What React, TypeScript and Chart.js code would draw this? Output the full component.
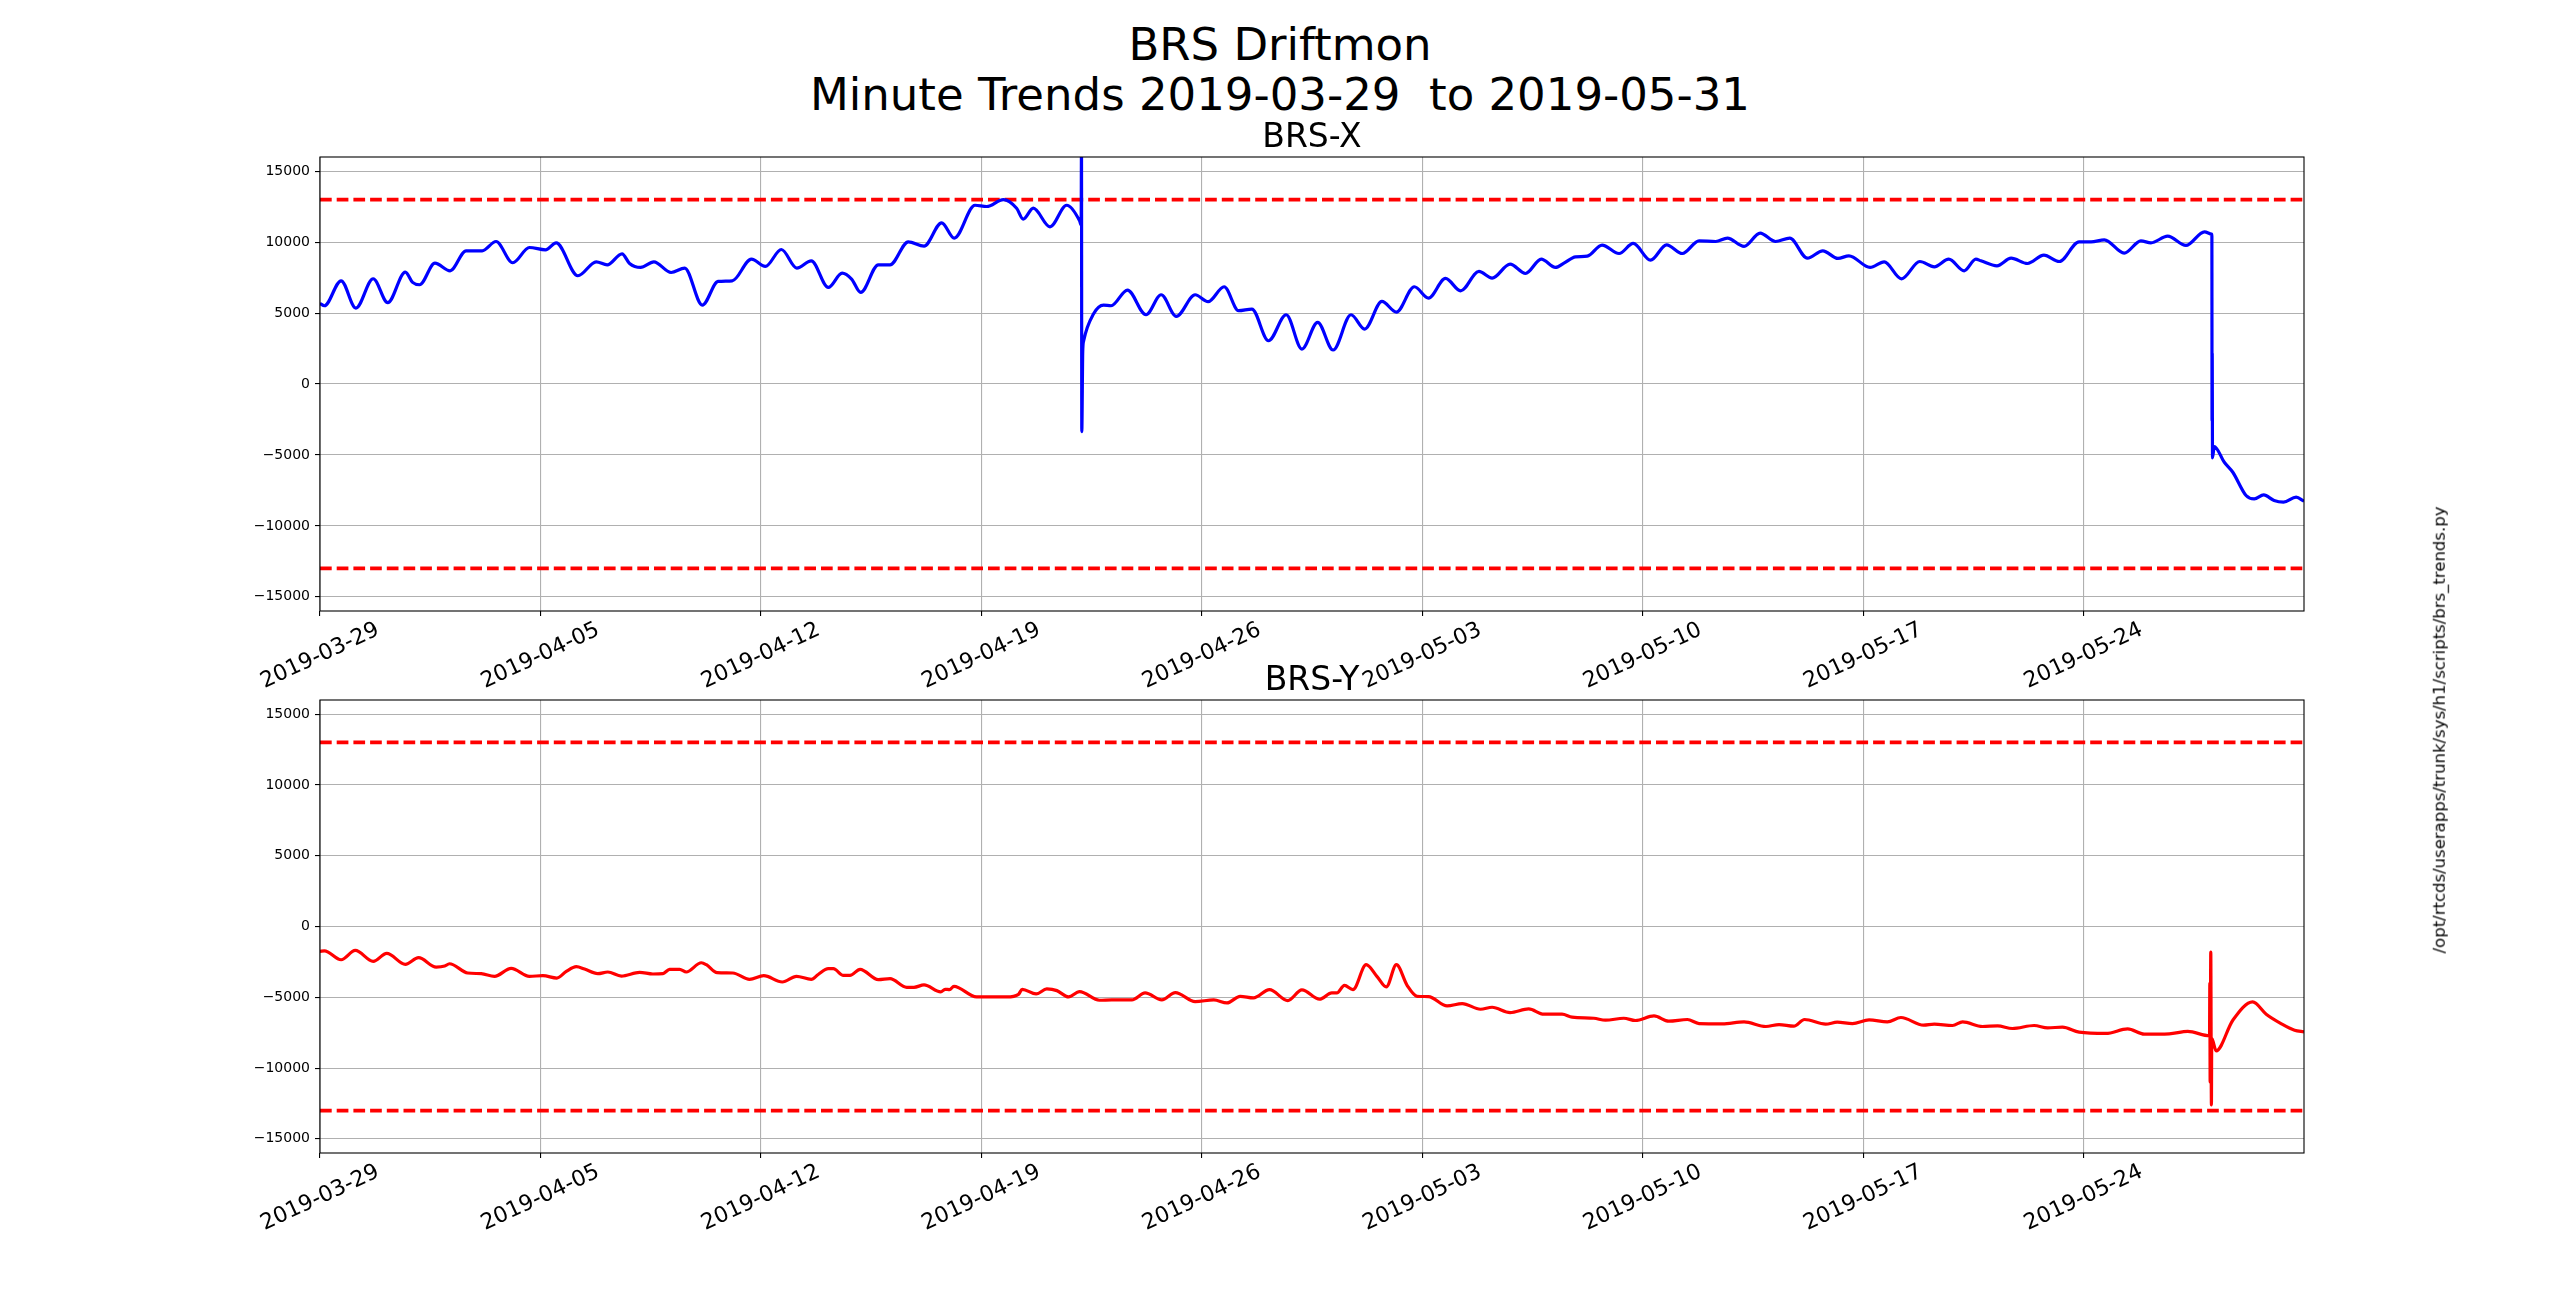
import React, { useEffect, useRef } from 'react';
import { Chart, registerables } from 'chart.js';

Chart.register(...registerables);

// ---------------- data ----------------
const dayRange = [0, 63]; // days since 2019-03-29 (to 2019-05-31)
const tickDays = [0, 7, 14, 21, 28, 35, 42, 49, 56];
const tickLabels = [
  '2019-03-29', '2019-04-05', '2019-04-12', '2019-04-19', '2019-04-26',
  '2019-05-03', '2019-05-10', '2019-05-17', '2019-05-24',
];
const yRange = [-16000, 16000];
const yTicks = [-15000, -10000, -5000, 0, 5000, 10000, 15000];
const thresholds = [13000, -13000];

const brsXDays = [
  0, 0.14, 0.67, 1.14, 1.69, 2.15, 2.71, 2.94, 3.16, 3.65, 4.13, 4.64, 5.15, 5.59, 6.12, 6.65, 7.16, 7.5,
  8.19, 8.77, 9.12, 9.59, 9.83, 10.18, 10.6, 11.15, 11.58, 12.14, 12.64, 13.09, 13.7, 14.14, 14.65, 15.14,
  15.6, 16.14, 16.58, 16.88, 17.17, 17.73, 18.1, 18.68, 19.18, 19.74, 20.14, 20.8, 21.17, 21.7, 22.12,
  22.33, 22.65, 23.18, 23.71, 24.12, 24.17, 24.18, 24.19, 24.22, 24.25, 24.56, 24.88, 25.12, 25.64, 26.23,
  26.71, 27.19, 27.79, 28.2, 28.71, 29.17, 29.59, 30.12, 30.68, 31.18, 31.68, 32.17, 32.74, 33.17, 33.72,
  34.18, 34.75, 35.2, 35.74, 36.22, 36.8, 37.22, 37.79, 38.28, 38.78, 39.23, 39.5, 39.87, 40.24, 40.71,
  41.25, 41.7, 42.25, 42.76, 43.26, 43.79, 44.32, 44.69, 45.22, 45.73, 46.22, 46.67, 47.23, 47.72, 48.2,
  48.55, 49.22, 49.67, 50.22, 50.8, 51.26, 51.72, 52.21, 52.58, 52.74, 53.25, 53.7, 54.22, 54.74, 55.23,
  55.86, 56.24, 56.66, 57.29, 57.82, 58.14, 58.67, 59.25, 59.84, 60.07, 60.075, 60.08, 60.085, 60.095,
  60.15, 60.47, 60.74, 61.16, 61.42, 61.72, 62.05, 62.35, 62.75, 63.0,
];
const brsXValues = [
  5680, 5515, 7275, 5350, 7420, 5730, 7885, 7160, 6995, 8520, 7980, 9390, 9390, 10045, 8545, 9620, 9460, 9950,
  7630, 8610, 8400, 9175, 8495, 8215, 8610, 7860, 8170, 5560, 7230, 7275, 8800, 8285, 9480, 8170,
  8685, 6805, 7815, 7395, 6455, 8400, 8400, 10020, 9715, 11360, 10280, 12600, 12510, 13000, 12390,
  11620, 12390, 11080, 12600, 11500, 11200, 17000, -3355, 2300, 3050, 4930, 5560, 5515, 6620, 4880,
  6290, 4765, 6290, 5800, 6855, 5165, 5280, 3050, 4880, 2465, 4340, 2395, 4880, 3870, 5820,
  5070, 6855, 6055, 7440, 6570, 7935, 7465, 8450, 7790, 8800, 8215, 8520, 8965, 9010, 9790,
  9200, 9905, 8730, 9810, 9200, 10090, 10045, 10280, 9695, 10630, 10045, 10280, 8870, 9390, 8850,
  9035, 8215, 8610, 7415, 8635, 8260, 8800, 7980, 8800, 8685, 8330, 8870, 8495, 9080, 8635,
  10020, 10020, 10160, 9225, 10090, 9950, 10420, 9765, 10725, 10560, 10400, -2600, 2200, -5200,
  -4410, -5515, -6220, -7860, -8100, -7815, -8215, -8330, -7980, -8260,
];

const brsYDays = [
  0, 0.14, 0.67, 1.12, 1.69, 2.12, 2.71, 3.13, 3.69, 3.96, 4.11, 4.69, 5.12, 5.54, 6.07, 6.65, 7.08, 7.52,
  7.82, 8.14, 8.4, 8.82, 9.14, 9.57, 10.15, 10.57, 10.89, 11.1, 11.42, 11.63, 12.11, 12.27, 12.61, 13.11,
  13.64, 14.09, 14.68, 15.13, 15.6, 15.82, 16.14, 16.3, 16.62, 16.83, 17.15, 17.73, 18.1, 18.63, 18.86,
  19.18, 19.71, 19.85, 19.99, 20.13, 20.85, 21.81, 22.18, 22.3, 22.74, 23.08, 23.4, 23.77, 24.12, 24.75,
  25.14, 25.78, 26.2, 26.73, 27.16, 27.79, 28.38, 28.8, 29.22, 29.64, 30.15, 30.73, 31.18, 31.74, 32.13,
  32.29, 32.53, 32.8, 33.22, 33.56, 33.86, 34.18, 34.52, 34.84, 35.2, 35.79, 36.27, 36.85, 37.22, 37.79,
  38.38, 38.86, 39.44, 39.76, 40.45, 40.82, 41.4, 41.77, 42.36, 42.83, 43.42, 43.79, 44.53, 45.22, 45.91,
  46.33, 46.8, 47.14, 47.81, 48.18, 48.66, 49.19, 49.77, 50.2, 50.92, 51.26, 51.84, 52.16, 52.79, 53.27,
  53.74, 54.43, 54.86, 55.33, 55.86, 56.71, 57.4, 57.93, 58.72, 59.31, 60.0, 60.01, 60.02, 60.04, 60.06,
  60.07, 60.21, 60.74, 61.37, 61.8, 62.27, 62.7, 63.0,
];
const brsYValues = [
  -1760, -1715, -2350, -1690, -2465, -1900, -2675, -2205, -2865, -2795, -2630, -3285, -3330, -3520, -2955, -3520, -3475, -3640,
  -3170, -2840, -3005, -3330, -3215, -3500, -3240, -3355, -3330, -3030, -3030, -3215, -2560, -2700, -3260, -3285,
  -3730, -3475, -3920, -3520, -3730, -3390, -2980, -2980, -3450, -3450, -3030, -3755, -3685, -4295, -4295,
  -4130, -4625, -4435, -4460, -4225, -4975, -4975, -4790, -4435, -4765, -4410, -4530, -4975, -4600, -5210,
  -5185, -5185, -4695, -5185, -4670, -5305, -5185, -5400, -4930, -5045, -4460, -5235, -4480, -5140, -4695,
  -4695, -4155, -4460, -2700, -3520, -4270, -2700, -4155, -4930, -4950, -5610, -5445, -5845, -5705, -6080,
  -5820, -6195, -6195, -6405, -6480, -6620, -6480, -6640, -6315, -6690, -6570, -6855, -6875, -6735, -7065,
  -6925, -7040, -6570, -6900, -6760, -6855, -6595, -6735, -6430, -6970, -6900, -6995, -6735, -7065, -7020,
  -7205, -6995, -7160, -7110, -7465, -7555, -7230, -7605, -7580, -7415, -7720, -4000, -11000, -1810, -12600,
  -7900, -8780, -6620, -5330, -6195, -6855, -7325, -7440,
];

// ---------------- chart helpers ----------------
const FONT = '"DejaVu Sans", "Liberation Sans", sans-serif';

const axesDecor = {
  id: 'axesDecor',
  afterDraw(chart: any) {
    const { ctx, chartArea: a, scales } = chart;
    ctx.save();
    ctx.strokeStyle = '#000';
    ctx.lineWidth = 1.1;
    ctx.strokeRect(a.left, a.top, a.right - a.left, a.bottom - a.top);
    ctx.fillStyle = '#000';
    ctx.font = `22px ${FONT}`;
    ctx.textAlign = 'center';
    ctx.textBaseline = 'middle';
    tickDays.forEach((d, i) => {
      const x = scales.x.getPixelForValue(d);
      ctx.save();
      ctx.translate(x, a.bottom + 45);
      ctx.rotate((-25 * Math.PI) / 180);
      ctx.fillText(tickLabels[i], 0, 0);
      ctx.restore();
    });
    ctx.restore();
  },
};

function buildConfig(days: number[], values: number[], color: string, padTop: number, padBottom: number) {
  const series = days.map((d, i) => ({ x: d, y: values[i] }));
  return {
    type: 'line',
    data: {
      datasets: [
        {
          data: series,
          borderColor: color,
          borderWidth: 3.2,
          pointRadius: 0,
          cubicInterpolationMode: 'monotone',
          fill: false,
        },
        ...thresholds.map((t) => ({
          data: [
            { x: dayRange[0], y: t },
            { x: dayRange[1], y: t },
          ],
          borderColor: '#ff0000',
          borderWidth: 3.8,
          borderDash: [11.7, 5],
          pointRadius: 0,
          fill: false,
        })),
      ],
    },
    options: {
      animation: false,
      responsive: false,
      maintainAspectRatio: false,
      devicePixelRatio: 1,
      layout: { padding: { left: 220, right: 256, top: padTop, bottom: padBottom } },
      plugins: { legend: { display: false }, tooltip: { enabled: false }, title: { display: false } },
      scales: {
        x: {
          type: 'linear',
          min: dayRange[0],
          max: dayRange[1],
          afterBuildTicks: (scale: any) => {
            scale.ticks = tickDays.map((v) => ({ value: v }));
          },
          afterFit: (scale: any) => {
            scale.height = 5;
          },
          ticks: { display: false },
          border: { display: false },
          grid: {
            color: '#b0b0b0',
            lineWidth: 1.1,
            drawTicks: true,
            tickLength: 5,
            tickColor: '#000',
            tickWidth: 1.1,
          },
        },
        y: {
          type: 'linear',
          min: yRange[0],
          max: yRange[1],
          afterBuildTicks: (scale: any) => {
            scale.ticks = yTicks.map((v) => ({ value: v }));
          },
          afterFit: (scale: any) => {
            scale.width = 100;
          },
          ticks: {
            color: '#000',
            padding: 5,
            font: { family: FONT, size: 14 },
            callback: (v: number) => (v < 0 ? '\u2212' + Math.abs(v) : String(v)),
          },
          border: { display: false },
          grid: {
            color: '#b0b0b0',
            lineWidth: 1.1,
            drawTicks: true,
            tickLength: 5,
            tickColor: '#000',
            tickWidth: 1.1,
          },
        },
      },
    },
    plugins: [axesDecor],
  };
}

function Panel(props: { top: number; height: number; days: number[]; values: number[]; color: string; padTop: number; padBottom: number }) {
  const ref = useRef<HTMLCanvasElement | null>(null);
  useEffect(() => {
    if (!ref.current) return;
    const chart = new Chart(ref.current, buildConfig(props.days, props.values, props.color, props.padTop, props.padBottom) as any);
    return () => chart.destroy();
  }, []);
  return (
    <canvas
      ref={ref}
      width={2560}
      height={props.height}
      style={{ position: 'absolute', left: 0, top: props.top, width: 2560, height: props.height }}
    />
  );
}

const textBase: React.CSSProperties = {
  position: 'absolute',
  fontFamily: FONT,
  lineHeight: 1,
  whiteSpace: 'pre',
  color: '#000',
};

export default function App() {
  return (
    <div style={{ position: 'fixed', left: 0, top: 0, width: 2560, height: 1297, background: '#fff', overflow: 'hidden' }}>
      <div style={{ ...textBase, left: 0, width: 2560, top: 22, fontSize: 45, textAlign: 'center' }}>BRS Driftmon</div>
      <div style={{ ...textBase, left: 0, width: 2560, top: 72, fontSize: 45, textAlign: 'center' }}>
        {'Minute Trends 2019-03-29  to 2019-05-31'}
      </div>
      <Panel top={0} height={700} days={brsXDays} values={brsXValues} color="#0000ff" padTop={157} padBottom={84} />
      <Panel top={650} height={647} days={brsYDays} values={brsYValues} color="#ff0000" padTop={50} padBottom={139} />
      <div style={{ ...textBase, left: 320, width: 1984, top: 119, fontSize: 33, textAlign: 'center' }}>BRS-X</div>
      <div style={{ ...textBase, left: 320, width: 1984, top: 662, fontSize: 33, textAlign: 'center' }}>BRS-Y</div>
      <div
        style={{
          ...textBase,
          left: 2440,
          top: 730,
          fontSize: 16.5,
          transform: 'translate(-50%, -50%) rotate(-90deg)',
        }}
      >
        /opt/rtcds/userapps/trunk/sys/h1/scripts/brs_trends.py
      </div>
    </div>
  );
}
